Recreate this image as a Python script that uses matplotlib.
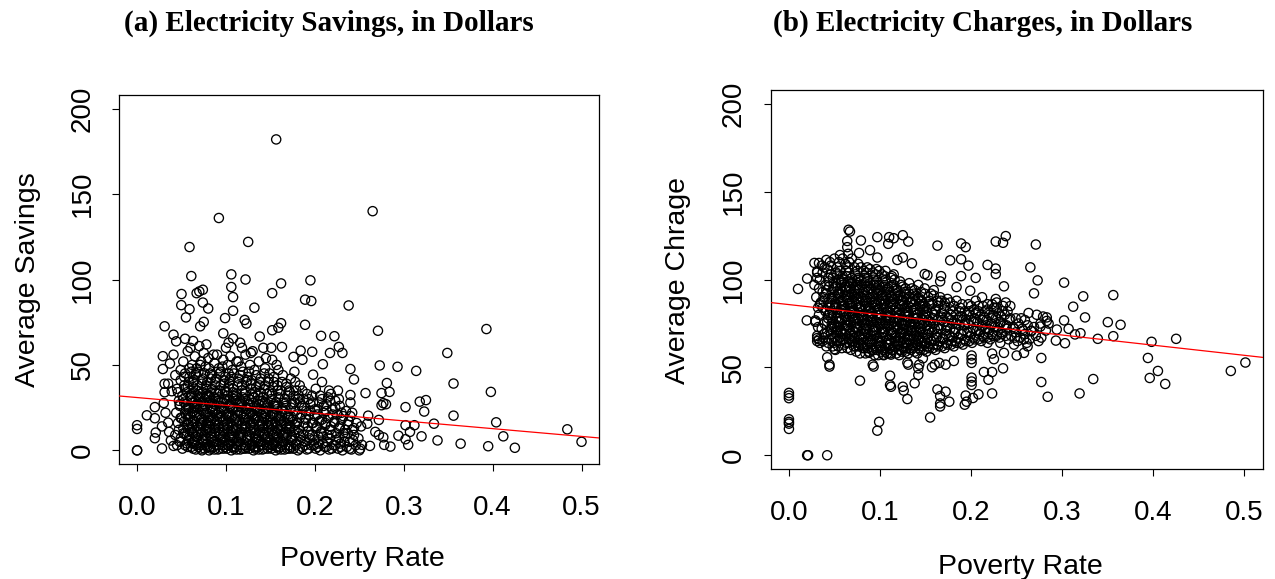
import matplotlib
matplotlib.use('Agg')
import matplotlib.pyplot as plt

# ── data (poverty rate, dollars) ──────────────────────────────────────────────
# (a) savings: dense core of the cloud
sav_core = [
    (0.045, 3), (0.043, 9), (0.046, 16), (0.044, 22), (0.047, 29), (0.045, 36), (0.043, 44),
    (0.051, 1), (0.049, 7), (0.052, 13), (0.050, 19), (0.048, 26), (0.051, 32), (0.053, 38), (0.049, 47), (0.052, 52),
    (0.056, 4), (0.054, 10), (0.057, 15), (0.055, 21), (0.053, 28), (0.056, 34), (0.058, 40), (0.054, 45), (0.057, 58),
    (0.061, 2), (0.059, 8), (0.062, 14), (0.060, 20), (0.058, 25), (0.061, 31), (0.063, 37), (0.059, 43), (0.062, 50), (0.060, 60),
    (0.066, 0.5), (0.064, 5), (0.067, 11), (0.065, 17), (0.063, 23), (0.066, 29), (0.068, 35), (0.064, 41), (0.067, 48), (0.065, 55), (0.063, 64),
    (0.071, 3), (0.069, 9), (0.072, 15), (0.070, 21), (0.068, 27), (0.071, 33), (0.073, 39), (0.069, 46), (0.072, 52), (0.070, 61),
    (0.076, 1), (0.074, 6), (0.077, 12), (0.075, 18), (0.073, 24), (0.076, 30), (0.078, 36), (0.074, 42), (0.077, 49), (0.075, 57),
    (0.081, 0), (0.079, 4), (0.082, 10), (0.080, 16), (0.078, 22), (0.081, 28), (0.083, 34), (0.079, 40), (0.082, 45), (0.080, 54), (0.078, 62),
    (0.086, 2), (0.084, 8), (0.087, 13), (0.085, 19), (0.083, 25), (0.086, 31), (0.088, 38), (0.084, 44), (0.087, 51),
    (0.091, 0.5), (0.089, 5), (0.092, 11), (0.090, 17), (0.088, 23), (0.091, 29), (0.093, 35), (0.089, 42), (0.092, 48), (0.090, 56),
    (0.096, 3), (0.094, 9), (0.097, 14), (0.095, 20), (0.093, 26), (0.096, 33), (0.098, 39), (0.094, 46), (0.097, 53),
    (0.101, 1), (0.099, 6), (0.102, 12), (0.100, 18), (0.098, 24), (0.101, 30), (0.103, 37), (0.099, 43), (0.102, 50), (0.100, 60),
    (0.106, 0), (0.104, 4), (0.107, 10), (0.105, 16), (0.103, 22), (0.106, 28), (0.108, 34), (0.104, 41), (0.107, 47), (0.105, 55), (0.103, 63),
    (0.111, 2), (0.109, 8), (0.112, 13), (0.110, 19), (0.108, 25), (0.111, 32), (0.113, 38), (0.109, 45), (0.112, 52),
    (0.116, 0.5), (0.114, 5), (0.117, 11), (0.115, 17), (0.113, 23), (0.116, 29), (0.118, 35), (0.114, 42), (0.117, 49),
    (0.121, 3), (0.119, 9), (0.122, 15), (0.120, 21), (0.118, 27), (0.121, 33), (0.123, 40), (0.119, 46), (0.122, 56),
    (0.126, 1), (0.124, 6), (0.127, 12), (0.125, 18), (0.123, 24), (0.126, 30), (0.128, 36), (0.124, 43), (0.127, 50),
    (0.131, 0), (0.129, 4), (0.132, 10), (0.130, 16), (0.128, 22), (0.131, 28), (0.133, 34), (0.129, 41), (0.132, 47), (0.130, 58),
    (0.136, 2), (0.134, 8), (0.137, 14), (0.135, 20), (0.133, 26), (0.136, 32), (0.138, 38), (0.134, 44), (0.137, 52),
    (0.141, 0.5), (0.139, 5), (0.142, 11), (0.140, 17), (0.138, 23), (0.141, 29), (0.143, 36), (0.139, 42), (0.142, 60),
    (0.146, 3), (0.144, 9), (0.147, 15), (0.145, 21), (0.143, 27), (0.146, 33), (0.148, 40), (0.144, 48),
    (0.151, 1), (0.149, 6), (0.152, 12), (0.150, 18), (0.148, 24), (0.151, 30), (0.153, 37), (0.149, 45), (0.152, 53),
    (0.156, 0), (0.154, 4), (0.157, 10), (0.155, 16), (0.153, 22), (0.156, 28), (0.158, 35), (0.154, 43), (0.157, 50),
    (0.161, 2), (0.159, 8), (0.162, 14), (0.160, 20), (0.158, 26), (0.161, 33), (0.163, 40), (0.159, 47),
    (0.166, 0.5), (0.164, 5), (0.167, 11), (0.165, 17), (0.163, 23), (0.166, 30), (0.168, 37), (0.164, 44),
    (0.171, 3), (0.169, 9), (0.172, 15), (0.170, 21), (0.168, 28), (0.171, 35), (0.173, 42),
    (0.176, 1), (0.174, 6), (0.177, 12), (0.175, 18), (0.173, 25), (0.176, 32), (0.178, 40),
    (0.181, 0), (0.179, 4), (0.182, 10), (0.180, 16), (0.178, 23), (0.181, 30), (0.183, 38),
    (0.186, 2), (0.184, 8), (0.187, 14), (0.185, 21), (0.183, 28), (0.186, 35),
    (0.191, 0.5), (0.189, 5), (0.192, 11), (0.190, 18), (0.188, 25), (0.191, 33),
    (0.196, 3), (0.194, 9), (0.197, 16), (0.195, 23), (0.193, 30),
    (0.201, 1), (0.199, 6), (0.202, 13), (0.200, 20), (0.198, 28), (0.201, 36),
    (0.206, 0), (0.204, 4), (0.207, 10), (0.205, 17), (0.203, 24), (0.206, 32), (0.208, 40),
    (0.211, 2), (0.209, 8), (0.212, 15), (0.210, 22), (0.208, 30),
    (0.216, 0.5), (0.214, 5), (0.217, 12), (0.215, 19), (0.213, 27), (0.216, 35),
    (0.221, 3), (0.219, 9), (0.222, 16), (0.220, 24), (0.218, 33),
    (0.226, 1), (0.224, 6), (0.227, 13), (0.225, 21), (0.223, 29), (0.226, 35),
    (0.231, 0), (0.229, 4), (0.232, 10), (0.230, 18), (0.228, 26),
    (0.236, 2), (0.234, 8), (0.237, 15), (0.235, 23),
    (0.241, 0.5), (0.239, 5), (0.242, 12), (0.240, 20),
    (0.246, 3), (0.244, 9), (0.247, 16),
    (0.251, 1), (0.249, 7), (0.252, 14),
]
# (a) savings: second layer of the core, between the points above
sav_core2 = [
    (0.048, 5), (0.047, 12), (0.049, 19), (0.048, 27), (0.046, 34), (0.049, 41),
    (0.054, 3), (0.052, 10), (0.053, 17), (0.055, 24), (0.052, 30), (0.054, 36), (0.053, 43),
    (0.058, 6), (0.059, 12), (0.057, 18), (0.058, 24), (0.060, 31), (0.057, 37), (0.059, 48),
    (0.063, 1), (0.064, 5), (0.062, 11), (0.063, 17), (0.065, 22), (0.062, 28), (0.064, 34), (0.063, 40), (0.061, 46),
    (0.069, 2), (0.067, 8), (0.068, 14), (0.070, 19), (0.067, 25), (0.069, 31), (0.068, 38), (0.066, 44),
    (0.073, 0), (0.074, 4), (0.072, 10), (0.073, 16), (0.075, 22), (0.072, 28), (0.074, 34), (0.073, 41), (0.071, 50),
    (0.079, 2), (0.077, 7), (0.078, 13), (0.080, 19), (0.077, 26), (0.079, 32), (0.078, 38), (0.076, 45),
    (0.083, 1), (0.084, 6), (0.082, 12), (0.083, 17), (0.085, 23), (0.082, 29), (0.084, 36), (0.083, 42), (0.081, 48),
    (0.089, 3), (0.087, 9), (0.088, 15), (0.090, 21), (0.087, 27), (0.089, 34), (0.088, 40),
    (0.093, 1), (0.094, 7), (0.092, 13), (0.093, 19), (0.095, 25), (0.092, 31), (0.094, 38), (0.093, 45),
    (0.099, 2), (0.097, 8), (0.098, 15), (0.100, 21), (0.097, 28), (0.099, 35), (0.098, 41), (0.096, 49),
    (0.103, 3), (0.104, 9), (0.102, 14), (0.103, 20), (0.105, 26), (0.102, 32), (0.104, 39), (0.103, 45),
    (0.109, 1), (0.107, 6), (0.108, 12), (0.110, 18), (0.107, 24), (0.109, 30), (0.108, 36), (0.106, 43),
    (0.113, 3), (0.114, 9), (0.112, 15), (0.113, 21), (0.115, 27), (0.112, 33), (0.114, 40),
    (0.119, 1), (0.117, 7), (0.118, 13), (0.120, 19), (0.117, 25), (0.119, 31), (0.118, 38), (0.116, 44),
    (0.123, 2), (0.124, 8), (0.122, 14), (0.123, 21), (0.125, 27), (0.122, 34), (0.124, 41),
    (0.129, 3), (0.127, 9), (0.128, 15), (0.130, 21), (0.127, 27), (0.129, 33), (0.128, 39), (0.126, 46),
    (0.133, 1), (0.134, 6), (0.132, 12), (0.133, 18), (0.135, 24), (0.132, 31), (0.134, 37),
    (0.139, 3), (0.137, 9), (0.138, 15), (0.140, 21), (0.137, 27), (0.139, 34), (0.138, 40),
    (0.143, 1), (0.144, 7), (0.142, 13), (0.143, 19), (0.145, 25), (0.142, 31), (0.144, 38), (0.143, 45),
    (0.149, 2), (0.147, 8), (0.148, 14), (0.150, 20), (0.147, 27), (0.149, 34), (0.148, 42),
    (0.153, 3), (0.154, 9), (0.152, 15), (0.153, 21), (0.155, 27), (0.152, 33), (0.154, 40),
    (0.159, 1), (0.157, 6), (0.158, 12), (0.160, 18), (0.157, 24), (0.159, 31), (0.158, 38),
    (0.163, 3), (0.164, 9), (0.162, 15), (0.163, 21), (0.165, 28), (0.162, 35),
    (0.169, 1), (0.167, 7), (0.168, 13), (0.170, 19), (0.167, 26), (0.169, 32), (0.168, 39),
    (0.173, 2), (0.174, 8), (0.172, 14), (0.173, 20), (0.175, 27), (0.172, 34),
    (0.179, 3), (0.177, 9), (0.178, 15), (0.180, 21), (0.177, 28), (0.179, 35),
    (0.183, 1), (0.184, 6), (0.182, 12), (0.183, 19), (0.185, 26), (0.182, 32),
    (0.189, 3), (0.187, 9), (0.188, 16), (0.190, 23), (0.187, 30),
    (0.193, 1), (0.194, 7), (0.192, 14), (0.193, 21), (0.195, 27),
    (0.199, 3), (0.197, 9), (0.198, 16), (0.200, 24), (0.197, 32),
    (0.203, 2), (0.204, 8), (0.202, 14), (0.203, 21), (0.205, 28),
    (0.209, 4), (0.207, 11), (0.208, 18), (0.210, 26),
    (0.213, 2), (0.214, 9), (0.212, 16), (0.213, 23), (0.215, 31),
    (0.219, 1), (0.217, 7), (0.218, 14), (0.220, 21), (0.217, 29),
    (0.223, 3), (0.224, 10), (0.222, 17), (0.223, 25),
    (0.229, 2), (0.227, 7), (0.228, 14), (0.230, 22), (0.227, 30),
    (0.233, 5), (0.234, 12), (0.232, 20),
    (0.239, 1), (0.237, 10), (0.238, 17), (0.240, 28),
    (0.243, 6), (0.244, 13), (0.242, 22),
]
# (a) savings: third layer, the darkest low band
sav_core3 = [
    (0.057, 2), (0.056, 9), (0.058, 15), (0.057, 21), (0.055, 27),
    (0.062, 4), (0.063, 10), (0.061, 16), (0.062, 22), (0.064, 28), (0.061, 33),
    (0.067, 3), (0.066, 8), (0.068, 14), (0.067, 20), (0.065, 26), (0.068, 32),
    (0.072, 1), (0.073, 6), (0.071, 12), (0.072, 18), (0.074, 25), (0.071, 31),
    (0.077, 3), (0.076, 9), (0.078, 15), (0.077, 21), (0.075, 27), (0.078, 33),
    (0.082, 2), (0.083, 8), (0.081, 14), (0.082, 20), (0.084, 26), (0.081, 32),
    (0.087, 0.5), (0.086, 5), (0.088, 11), (0.087, 17), (0.085, 24), (0.088, 30),
    (0.092, 3), (0.093, 9), (0.091, 15), (0.092, 22), (0.094, 28), (0.091, 33),
    (0.097, 1), (0.096, 5), (0.098, 11), (0.097, 17), (0.095, 23), (0.098, 30),
    (0.102, 3), (0.103, 8), (0.101, 15), (0.102, 21), (0.104, 27), (0.101, 34),
    (0.107, 2), (0.106, 8), (0.108, 14), (0.107, 20), (0.105, 26), (0.108, 32),
    (0.112, 0.5), (0.113, 5), (0.111, 11), (0.112, 17), (0.114, 23), (0.111, 29),
    (0.117, 3), (0.116, 9), (0.118, 15), (0.117, 21), (0.115, 28),
    (0.122, 1), (0.123, 6), (0.121, 12), (0.122, 18), (0.124, 24), (0.121, 30),
    (0.127, 3), (0.126, 9), (0.128, 15), (0.127, 21), (0.125, 27),
    (0.132, 2), (0.133, 7), (0.131, 13), (0.132, 19), (0.134, 25), (0.131, 31),
    (0.137, 0.5), (0.136, 5), (0.138, 11), (0.137, 17), (0.135, 23), (0.138, 29),
    (0.142, 3), (0.143, 9), (0.141, 15), (0.142, 22), (0.144, 28),
    (0.147, 1), (0.146, 5), (0.148, 11), (0.147, 17), (0.145, 23),
    (0.152, 3), (0.153, 9), (0.151, 15), (0.152, 21), (0.154, 26),
    (0.157, 2), (0.156, 8), (0.158, 14), (0.157, 20), (0.155, 26),
    (0.162, 0.5), (0.163, 5), (0.161, 11), (0.162, 17), (0.164, 24),
    (0.167, 3), (0.166, 9), (0.168, 15), (0.167, 21),
    (0.172, 1), (0.173, 6), (0.171, 12), (0.172, 18),
]
# (a) savings: scattered points outside the core
sav_outer = [
    (0.1565, 182), (0.092, 136), (0.265, 140), (0.125, 122), (0.059, 119), (0.061, 102),
    (0.106, 103), (0.122, 100), (0.195, 99.5), (0.162, 97.7), (0.106, 95.6), (0.108, 89.7),
    (0.152, 92), (0.050, 91.5), (0.070, 93), (0.074, 94), (0.067, 92), (0.189, 88.2),
    (0.196, 87.4), (0.238, 84.8), (0.0497, 85), (0.074, 86.5), (0.080, 83), (0.132, 83.5),
    (0.108, 81.7), (0.099, 77.4), (0.055, 77.8), (0.059, 82.6), (0.121, 76.3), (0.123, 74.2),
    (0.162, 74.4), (0.189, 73.5), (0.031, 72.6), (0.071, 72.6), (0.075, 75.2), (0.159, 71.8),
    (0.152, 70.3), (0.271, 70), (0.393, 71), (0.097, 68.5), (0.138, 66.6), (0.207, 67),
    (0.222, 66.8), (0.041, 67.7), (0.044, 63.8), (0.054, 65.3), (0.108, 65.5), (0.116, 63),
    (0.163, 60.5), (0.151, 60), (0.227, 60.5), (0.231, 57), (0.217, 57), (0.197, 57.7),
    (0.184, 58.4), (0.176, 54.7), (0.186, 53), (0.349, 57), (0.209, 50.4), (0.273, 49.7),
    (0.293, 48.9), (0.240, 47.6), (0.314, 46.5), (0.198, 44.3), (0.244, 41.5), (0.177, 46),
    (0.281, 39.4), (0.356, 39.1), (0.398, 34.2), (0.284, 34.2), (0.275, 33.5), (0.257, 33.5),
    (0.240, 32.4), (0.325, 29.4), (0.318, 28.5), (0.280, 27), (0.275, 26.4), (0.302, 25.3),
    (0.323, 22.7), (0.334, 15.6), (0.356, 20.3), (0.404, 16.4), (0.312, 14.7), (0.302, 14.7),
    (0.307, 10.8), (0.294, 8.6), (0.320, 8.2), (0.412, 8.2), (0.484, 12.3), (0.500, 5),
    (0.338, 5.8), (0.364, 3.9), (0.395, 2.4), (0.425, 1.5), (0.302, 6.5), (0.305, 3.2),
    (0.277, 7.6), (0.278, 3.2), (0.285, 2.2), (0.262, 2.6), (0.272, 9), (0.268, 10.8),
    (0.259, 15.6), (0.250, 0), (0.253, 3.2), (0.260, 20.3), (0.272, 17.8), (0.277, 27.6),
    (0.066, 45), (0.086, 56), (0.114, 52), (0.128, 57), (0.145, 54), (0.118, 60),
    (0.0, 0), (0.0, 0), (0.0, 14.7), (0.0, 12.5),
    (0.011, 20.5), (0.020, 25.3), (0.020, 18.8), (0.021, 10.4), (0.020, 7.1), (0.028, 1.1),
    (0.028, 14), (0.029, 55.1), (0.029, 47.6), (0.031, 39), (0.031, 34), (0.030, 27.7),
    (0.032, 22), (0.035, 16.2), (0.036, 10.8), (0.038, 5.8), (0.041, 2.6), (0.035, 39),
    (0.039, 34.6), (0.037, 50.8), (0.041, 56),
]

# (b) charges: dense core of the cloud
chg_core = [
    (0.031, 68), (0.029, 76), (0.032, 84), (0.030, 90), (0.028, 97), (0.031, 104),
    (0.034, 64), (0.036, 72), (0.033, 80), (0.035, 87), (0.037, 93), (0.034, 100), (0.036, 108),
    (0.041, 62), (0.039, 69), (0.042, 76), (0.040, 82), (0.038, 88), (0.041, 94), (0.043, 101), (0.039, 107),
    (0.044, 66), (0.046, 72), (0.043, 78), (0.045, 84), (0.047, 90), (0.044, 96), (0.046, 103), (0.045, 110),
    (0.051, 60), (0.049, 64), (0.052, 70), (0.050, 75), (0.048, 81), (0.051, 86), (0.053, 92), (0.049, 98), (0.052, 104), (0.050, 112),
    (0.054, 62), (0.056, 67), (0.053, 73), (0.055, 78), (0.057, 83), (0.054, 89), (0.056, 95), (0.055, 100), (0.053, 107), (0.056, 114),
    (0.061, 63), (0.059, 69), (0.062, 74), (0.060, 80), (0.058, 85), (0.061, 91), (0.063, 96), (0.059, 102), (0.062, 109),
    (0.064, 61), (0.066, 66), (0.063, 71), (0.065, 77), (0.067, 82), (0.064, 88), (0.066, 93), (0.065, 99), (0.063, 105), (0.066, 110),
    (0.071, 62), (0.069, 68), (0.072, 73), (0.070, 79), (0.068, 84), (0.071, 90), (0.073, 95), (0.069, 101), (0.072, 107),
    (0.074, 59), (0.076, 64), (0.073, 70), (0.075, 75), (0.077, 81), (0.074, 86), (0.076, 92), (0.075, 97), (0.073, 103), (0.076, 109),
    (0.081, 61), (0.079, 66), (0.082, 72), (0.080, 77), (0.078, 83), (0.081, 88), (0.083, 94), (0.079, 99), (0.082, 105),
    (0.084, 58), (0.086, 63), (0.083, 69), (0.085, 74), (0.087, 79), (0.084, 85), (0.086, 90), (0.085, 96), (0.083, 101), (0.086, 107),
    (0.091, 60), (0.089, 65), (0.092, 71), (0.090, 76), (0.088, 82), (0.091, 87), (0.093, 93), (0.089, 98), (0.092, 104),
    (0.094, 57), (0.096, 62), (0.093, 68), (0.095, 73), (0.097, 78), (0.094, 84), (0.096, 89), (0.095, 95), (0.093, 100), (0.096, 106),
    (0.101, 59), (0.099, 64), (0.102, 70), (0.100, 75), (0.098, 80), (0.101, 86), (0.103, 91), (0.099, 97), (0.102, 103),
    (0.104, 57), (0.106, 61), (0.103, 67), (0.105, 72), (0.107, 77), (0.104, 83), (0.106, 88), (0.105, 93), (0.103, 99), (0.106, 105),
    (0.111, 58), (0.109, 63), (0.112, 69), (0.110, 74), (0.108, 79), (0.111, 84), (0.113, 90), (0.109, 95), (0.112, 101),
    (0.114, 60), (0.116, 65), (0.113, 70), (0.115, 76), (0.117, 81), (0.114, 86), (0.116, 92), (0.115, 97), (0.113, 102),
    (0.121, 57), (0.119, 62), (0.122, 67), (0.120, 72), (0.118, 78), (0.121, 83), (0.123, 88), (0.119, 94), (0.122, 99),
    (0.124, 59), (0.126, 64), (0.123, 69), (0.125, 74), (0.127, 80), (0.124, 85), (0.126, 90), (0.125, 96),
    (0.131, 58), (0.129, 61), (0.132, 66), (0.130, 71), (0.128, 76), (0.131, 82), (0.133, 87), (0.129, 92), (0.132, 98),
    (0.134, 60), (0.136, 63), (0.133, 68), (0.135, 73), (0.137, 78), (0.134, 84), (0.136, 89), (0.135, 95),
    (0.141, 58), (0.139, 62), (0.142, 65), (0.140, 70), (0.138, 75), (0.141, 80), (0.143, 86), (0.139, 91), (0.142, 97),
    (0.144, 60), (0.146, 64), (0.143, 67), (0.145, 72), (0.147, 77), (0.144, 82), (0.146, 88), (0.145, 93),
    (0.151, 59), (0.149, 63), (0.152, 69), (0.150, 74), (0.148, 79), (0.151, 84), (0.153, 90), (0.149, 95),
    (0.154, 61), (0.156, 65), (0.153, 71), (0.155, 76), (0.157, 81), (0.154, 86), (0.156, 92),
    (0.161, 60), (0.159, 63), (0.162, 67), (0.160, 72), (0.158, 78), (0.161, 83), (0.163, 88), (0.159, 94),
    (0.164, 62), (0.166, 65), (0.163, 69), (0.165, 74), (0.167, 79), (0.164, 85), (0.166, 90),
    (0.171, 61), (0.169, 66), (0.172, 71), (0.170, 76), (0.168, 81), (0.171, 87),
    (0.174, 63), (0.176, 68), (0.173, 73), (0.175, 78), (0.177, 83), (0.174, 89),
    (0.181, 62), (0.179, 65), (0.182, 70), (0.180, 75), (0.178, 80), (0.181, 85),
    (0.184, 64), (0.186, 67), (0.183, 72), (0.185, 77), (0.187, 82), (0.184, 88),
    (0.191, 63), (0.189, 69), (0.192, 74), (0.190, 79), (0.188, 84),
    (0.194, 65), (0.196, 70), (0.193, 75), (0.195, 80), (0.197, 86),
    (0.201, 64), (0.199, 68), (0.202, 72), (0.200, 77), (0.198, 82),
    (0.204, 66), (0.206, 71), (0.203, 76), (0.205, 81),
    (0.211, 65), (0.209, 69), (0.212, 74), (0.210, 79), (0.208, 85),
    (0.214, 67), (0.216, 72), (0.213, 77), (0.215, 82),
    (0.221, 66), (0.219, 70), (0.222, 75), (0.220, 80), (0.218, 86),
    (0.224, 68), (0.226, 73), (0.223, 78), (0.225, 84), (0.227, 89),
    (0.231, 67), (0.229, 71), (0.232, 76), (0.230, 81), (0.228, 87),
    (0.234, 69), (0.236, 74), (0.233, 79), (0.235, 85),
    (0.241, 66), (0.239, 72), (0.242, 77), (0.240, 82),
    (0.244, 68), (0.246, 73), (0.243, 78),
    (0.251, 65), (0.249, 70), (0.252, 75),
    (0.254, 67), (0.256, 72),
    (0.261, 64), (0.259, 69), (0.262, 74),
    (0.264, 66), (0.266, 71),
    (0.271, 68), (0.269, 73), (0.272, 80),
    (0.274, 65), (0.276, 75),
]
# (b) charges: second layer of the core, between the points above
chg_core2 = [
    (0.033, 66), (0.032, 73), (0.034, 86), (0.033, 95), (0.031, 101),
    (0.038, 67), (0.039, 75), (0.037, 84), (0.038, 90), (0.040, 97), (0.037, 104),
    (0.043, 64), (0.042, 70), (0.044, 80), (0.043, 87), (0.041, 92), (0.044, 99), (0.042, 106),
    (0.048, 62), (0.049, 67), (0.047, 73), (0.048, 78), (0.050, 84), (0.047, 89), (0.049, 95), (0.048, 101), (0.046, 108),
    (0.053, 65), (0.052, 71), (0.054, 76), (0.053, 81), (0.051, 87), (0.054, 92), (0.052, 98), (0.053, 103), (0.055, 110),
    (0.058, 61), (0.059, 66), (0.057, 71), (0.058, 77), (0.060, 82), (0.057, 88), (0.059, 93), (0.058, 99), (0.056, 105), (0.059, 112),
    (0.063, 64), (0.062, 69), (0.064, 74), (0.063, 79), (0.061, 85), (0.064, 90), (0.062, 96), (0.063, 102), (0.065, 107),
    (0.068, 60), (0.069, 65), (0.067, 71), (0.068, 76), (0.070, 81), (0.067, 87), (0.069, 92), (0.068, 98), (0.066, 104), (0.069, 112),
    (0.073, 62), (0.072, 67), (0.074, 72), (0.073, 78), (0.071, 83), (0.074, 89), (0.072, 94), (0.073, 99), (0.075, 105),
    (0.078, 58), (0.079, 63), (0.077, 68), (0.078, 74), (0.080, 79), (0.077, 84), (0.079, 90), (0.078, 95), (0.076, 101), (0.079, 107),
    (0.083, 61), (0.082, 66), (0.084, 71), (0.083, 77), (0.081, 82), (0.084, 87), (0.082, 93), (0.083, 98), (0.085, 104),
    (0.088, 59), (0.089, 64), (0.087, 69), (0.088, 74), (0.090, 79), (0.087, 85), (0.089, 90), (0.088, 95), (0.086, 101), (0.089, 106),
    (0.093, 60), (0.092, 66), (0.094, 71), (0.093, 76), (0.091, 81), (0.094, 87), (0.092, 92), (0.093, 97), (0.095, 103),
    (0.098, 57), (0.099, 62), (0.097, 67), (0.098, 73), (0.100, 78), (0.097, 83), (0.099, 88), (0.098, 94), (0.096, 99), (0.099, 105),
    (0.103, 60), (0.102, 65), (0.104, 70), (0.103, 75), (0.101, 80), (0.104, 86), (0.102, 91), (0.103, 96), (0.105, 102),
    (0.108, 58), (0.109, 63), (0.107, 68), (0.108, 73), (0.110, 78), (0.107, 84), (0.109, 89), (0.108, 94), (0.106, 100),
    (0.113, 60), (0.112, 65), (0.114, 70), (0.113, 75), (0.111, 81), (0.114, 86), (0.112, 91), (0.113, 96), (0.115, 103),
    (0.118, 58), (0.119, 63), (0.117, 68), (0.118, 73), (0.120, 78), (0.117, 84), (0.119, 89), (0.118, 94), (0.116, 100),
    (0.123, 60), (0.122, 65), (0.124, 70), (0.123, 75), (0.121, 80), (0.124, 86), (0.122, 91), (0.123, 97),
    (0.128, 59), (0.129, 64), (0.127, 69), (0.128, 74), (0.130, 79), (0.127, 84), (0.129, 89), (0.128, 95),
    (0.133, 61), (0.132, 66), (0.134, 71), (0.133, 76), (0.131, 81), (0.134, 87), (0.132, 92),
    (0.138, 59), (0.139, 64), (0.137, 68), (0.138, 73), (0.140, 78), (0.137, 83), (0.139, 88), (0.138, 94),
    (0.143, 61), (0.142, 66), (0.144, 70), (0.143, 75), (0.141, 80), (0.144, 85), (0.142, 90),
    (0.148, 60), (0.149, 65), (0.147, 70), (0.148, 75), (0.150, 80), (0.147, 86), (0.149, 92),
    (0.153, 62), (0.152, 67), (0.154, 72), (0.153, 77), (0.151, 82), (0.154, 88),
    (0.158, 61), (0.159, 66), (0.157, 70), (0.158, 75), (0.160, 80), (0.157, 86), (0.159, 91),
    (0.163, 63), (0.162, 67), (0.164, 72), (0.163, 77), (0.161, 82), (0.164, 87),
    (0.168, 62), (0.169, 67), (0.167, 72), (0.168, 77), (0.170, 83), (0.167, 88),
    (0.173, 64), (0.172, 69), (0.174, 74), (0.173, 79), (0.171, 85),
    (0.178, 63), (0.179, 67), (0.177, 72), (0.178, 77), (0.180, 82), (0.177, 87),
    (0.183, 65), (0.182, 70), (0.184, 75), (0.183, 80), (0.181, 85),
    (0.188, 64), (0.189, 69), (0.187, 74), (0.188, 79), (0.190, 86),
    (0.193, 66), (0.192, 71), (0.194, 77), (0.193, 82),
    (0.198, 65), (0.199, 70), (0.197, 75), (0.198, 80), (0.200, 85),
    (0.203, 67), (0.202, 72), (0.204, 78), (0.203, 83),
    (0.208, 66), (0.209, 71), (0.207, 76), (0.208, 82),
    (0.213, 68), (0.212, 73), (0.214, 79), (0.213, 85),
    (0.218, 67), (0.219, 72), (0.217, 77), (0.218, 83),
    (0.223, 69), (0.222, 74), (0.224, 80), (0.223, 86),
    (0.228, 68), (0.229, 73), (0.227, 78), (0.228, 84),
    (0.233, 70), (0.232, 75), (0.234, 82),
    (0.238, 68), (0.239, 74), (0.237, 80), (0.238, 87),
    (0.248, 67), (0.247, 72), (0.249, 78),
    (0.258, 66), (0.257, 71), (0.259, 77),
]
# (b) charges: third layer, the darkest part of the core
chg_core3 = [
    (0.046, 69), (0.047, 75), (0.045, 81), (0.046, 87), (0.048, 93),
    (0.051, 67), (0.050, 73), (0.052, 78), (0.051, 84), (0.049, 90), (0.052, 96),
    (0.056, 65), (0.057, 70), (0.055, 76), (0.056, 81), (0.058, 86), (0.055, 92), (0.057, 98),
    (0.061, 66), (0.060, 72), (0.062, 77), (0.061, 83), (0.059, 88), (0.062, 94), (0.060, 100),
    (0.066, 64), (0.067, 69), (0.065, 74), (0.066, 80), (0.068, 85), (0.065, 91), (0.067, 96),
    (0.071, 65), (0.070, 71), (0.072, 76), (0.071, 82), (0.069, 87), (0.072, 92), (0.070, 98),
    (0.076, 62), (0.077, 67), (0.075, 73), (0.076, 78), (0.078, 84), (0.075, 89), (0.077, 94), (0.076, 100),
    (0.081, 64), (0.080, 69), (0.082, 75), (0.081, 80), (0.079, 85), (0.082, 91), (0.080, 97),
    (0.086, 61), (0.087, 66), (0.085, 72), (0.086, 77), (0.088, 82), (0.085, 88), (0.087, 93), (0.086, 99),
    (0.091, 63), (0.090, 68), (0.092, 73), (0.091, 79), (0.089, 84), (0.092, 90), (0.090, 95),
    (0.096, 60), (0.097, 65), (0.095, 70), (0.096, 76), (0.098, 81), (0.095, 86), (0.097, 92), (0.096, 97),
    (0.101, 62), (0.100, 67), (0.102, 72), (0.101, 78), (0.099, 83), (0.102, 89), (0.100, 94),
    (0.106, 59), (0.107, 64), (0.105, 70), (0.106, 75), (0.108, 80), (0.105, 86), (0.107, 91), (0.106, 96),
    (0.111, 61), (0.110, 66), (0.112, 71), (0.111, 77), (0.109, 82), (0.112, 87), (0.110, 93),
    (0.116, 62), (0.117, 67), (0.115, 73), (0.116, 78), (0.118, 84), (0.115, 89), (0.117, 95),
    (0.121, 60), (0.120, 65), (0.122, 70), (0.121, 76), (0.119, 81), (0.122, 86), (0.120, 91),
    (0.126, 61), (0.127, 67), (0.125, 72), (0.126, 77), (0.128, 82), (0.125, 88), (0.127, 93),
    (0.131, 63), (0.130, 68), (0.132, 74), (0.131, 79), (0.129, 84), (0.132, 90),
    (0.136, 61), (0.137, 66), (0.135, 71), (0.136, 76), (0.138, 81), (0.135, 87), (0.137, 92),
    (0.141, 63), (0.140, 68), (0.142, 73), (0.141, 78), (0.139, 83), (0.142, 89),
    (0.146, 62), (0.147, 67), (0.145, 72), (0.146, 77), (0.148, 83), (0.145, 88),
    (0.151, 64), (0.150, 69), (0.152, 74), (0.151, 79), (0.149, 85),
]
# (b) charges: scattered points outside the core
chg_outer = [
    (0.020, 0), (0.021, 0), (0.042, 0),
    (0.0, 35.5), (0.0, 34), (0.0, 32.5), (0.0, 20.5), (0.0, 19), (0.0, 18), (0.0, 15),
    (0.099, 19), (0.097, 14), (0.155, 21.5), (0.078, 42.5), (0.111, 45.3), (0.111, 40),
    (0.112, 39), (0.125, 39), (0.126, 36.8), (0.130, 32), (0.138, 41), (0.142, 45.7),
    (0.163, 37.5), (0.166, 33.7), (0.166, 27.8), (0.166, 29.5), (0.176, 30.5), (0.172, 36.2),
    (0.194, 34), (0.193, 28.8), (0.195, 30.5), (0.2005, 44.2), (0.2005, 42), (0.2005, 40),
    (0.208, 34.7), (0.202, 32.6), (0.223, 35.2), (0.219, 43), (0.214, 47.4), (0.235, 49.5),
    (0.223, 47.4), (0.277, 41.7), (0.284, 33.3), (0.277, 55.4), (0.319, 35.2), (0.334, 43.4),
    (0.396, 44), (0.405, 48), (0.413, 40.6), (0.394, 55.4), (0.398, 64.6), (0.485, 48),
    (0.501, 52.8), (0.425, 66.3), (0.364, 74.3), (0.356, 91.2), (0.350, 75.8), (0.356, 67.8),
    (0.339, 66.3), (0.325, 78.5), (0.323, 90.5), (0.312, 84.6), (0.302, 98.3), (0.302, 76.8),
    (0.307, 72), (0.314, 68.8), (0.320, 69.5), (0.294, 71.6), (0.303, 63.8), (0.293, 65.3),
    (0.271, 120), (0.265, 107), (0.273, 99.6), (0.269, 92.2), (0.283, 78.5), (0.238, 124.8),
    (0.235, 121), (0.227, 121.7), (0.218, 108.4), (0.227, 106.3), (0.227, 103.2), (0.236, 96.2),
    (0.163, 119.4), (0.189, 120.6), (0.194, 118.5), (0.177, 111), (0.189, 111.6), (0.197, 108),
    (0.205, 101), (0.189, 102), (0.199, 93.7), (0.184, 95.8), (0.0655, 128.4), (0.067, 127.4),
    (0.064, 122), (0.064, 118.5), (0.079, 122.3), (0.097, 124.2), (0.110, 124.2), (0.115, 123.6),
    (0.109, 120.4), (0.125, 125.3), (0.131, 121.7), (0.119, 111.2), (0.125, 112.6), (0.135, 109.3),
    (0.089, 116.8), (0.077, 115.2), (0.097, 112.6), (0.065, 114.7), (0.149, 103.2), (0.152, 102.5),
    (0.167, 102), (0.166, 99), (0.010, 94.7), (0.020, 100.6), (0.0196, 76.8), (0.029, 76.8),
    (0.028, 109.5), (0.033, 109.5), (0.041, 111.2), (0.031, 104.8), (0.031, 66.7), (0.031, 65),
    (0.037, 65), (0.042, 55.8), (0.0445, 51.6), (0.0445, 50.5), (0.050, 60.4), (0.092, 51.6),
    (0.093, 50.5), (0.088, 58.3), (0.112, 57.3), (0.104, 57.3), (0.131, 51.6), (0.142, 49.5),
    (0.147, 55.2), (0.143, 51.6), (0.157, 50.1), (0.160, 51.6), (0.165, 52.6), (0.172, 51.6),
    (0.181, 53.7), (0.2005, 56.8), (0.2005, 54.7), (0.2005, 52.6), (0.223, 57.9), (0.225, 54.7),
    (0.236, 58.3), (0.250, 56.8), (0.258, 58.3), (0.276, 73.3), (0.282, 71), (0.283, 76.5),
    (0.285, 75), (0.279, 79), (0.277, 67), (0.266, 70.6), (0.263, 81), (0.130, 52.7),
    (0.205, 88), (0.212, 90), (0.218, 64), (0.232, 64), (0.243, 85), (0.247, 63),
    (0.255, 78), (0.262, 62),
]

# fitted lines (intercept, slope)
sav_fit = (30.9, -45.5)
chg_fit = (85.8, -57.8)

x_ticks = [0.0, 0.1, 0.2, 0.3, 0.4, 0.5]
x_tick_labels = ['0.0', '0.1', '0.2', '0.3', '0.4', '0.5']
y_ticks = [0, 50, 100, 150, 200]

# ── layout ────────────────────────────────────────────────────────────────────
W, H = 1275, 579
fig = plt.figure(figsize=(W / 100, H / 100), dpi=100)
SANS = 'Liberation Sans'
SERIF = 'Liberation Serif'


def px_axes(l, t, r, b):
    return fig.add_axes([l / W, 1 - b / H, (r - l) / W, (b - t) / H])


def panel(ax, pts, fit, title, ylabel, title_xy, ylab_xy, xlab_xy):
    xs = [p[0] for p in pts]
    ys = [p[1] for p in pts]
    ax.scatter(xs, ys, s=44, facecolors='none', edgecolors='black', linewidths=0.95, zorder=2)
    ax.axline((0, fit[0]), slope=fit[1], color='red', lw=0.9, zorder=3)
    ax.set_xlim(-0.02, 0.52)
    ax.set_ylim(-8, 208)
    ax.set_xticks(x_ticks)
    ax.set_xticklabels(x_tick_labels, fontfamily=SANS, fontsize=20)
    ax.set_yticks(y_ticks)
    ax.set_yticklabels([str(v) for v in y_ticks], fontfamily=SANS, fontsize=20,
                       rotation=90, va='center')
    ax.tick_params(direction='out', length=5, width=0.8, color='black')
    ax.tick_params(axis='x', pad=17)
    ax.tick_params(axis='y', pad=12)
    for sp in ax.spines.values():
        sp.set_linewidth(0.9)
    fig.text(title_xy[0] / W, 1 - title_xy[1] / H, title, fontfamily=SERIF,
             fontweight='bold', fontsize=21, ha='center', va='center')
    fig.text(ylab_xy[0] / W, 1 - ylab_xy[1] / H, ylabel, fontfamily=SANS,
             fontsize=20.5, rotation=90, ha='center', va='center')
    fig.text(xlab_xy[0] / W, 1 - xlab_xy[1] / H, 'Poverty Rate', fontfamily=SANS,
             fontsize=20.5, ha='center', va='center')


axA = px_axes(119.3, 95, 599.3, 464)
axB = px_axes(770.7, 90, 1262.7, 469.3)

panel(axA, sav_core + sav_core2 + sav_core3 + sav_outer, sav_fit,
      '(a) Electricity Savings, in Dollars', 'Average Savings',
      (329, 23), (28, 280), (362, 559))
panel(axB, chg_core + chg_core2 + chg_core3 + chg_outer, chg_fit,
      '(b) Electricity Charges, in Dollars', 'Average Chrage',
      (983, 23), (678, 281), (1020, 567))

fig.savefig('out.png', dpi=100)
print('Saved out.png')
